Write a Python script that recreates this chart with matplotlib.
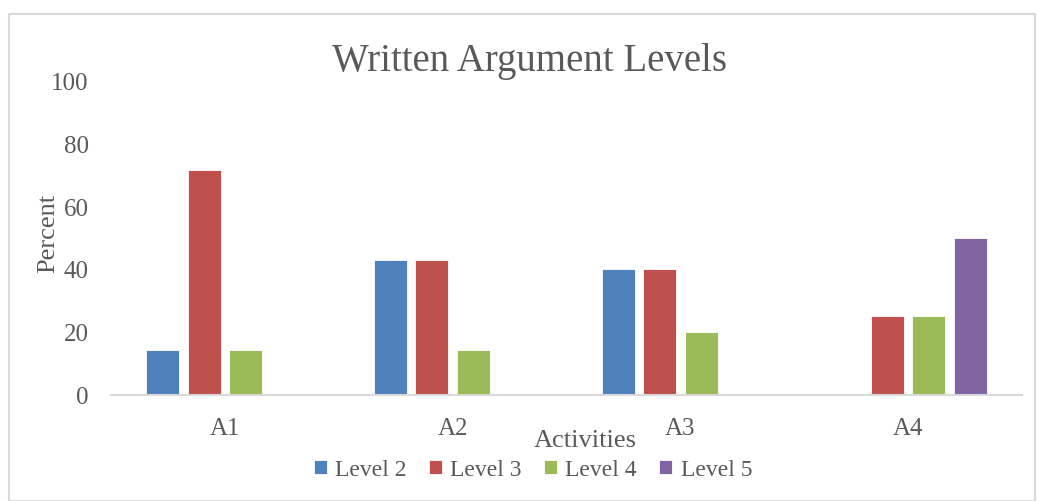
import matplotlib
matplotlib.use("Agg")
import matplotlib.pyplot as plt
from matplotlib.patches import Rectangle
import numpy as np

categories = ["A1", "A2", "A3", "A4"]
series_names = ["Level 2", "Level 3", "Level 4", "Level 5"]
level2 = [14.3, 42.9, 40.0, 0.0]
level3 = [71.4, 42.9, 40.0, 25.0]
level4 = [14.3, 14.3, 20.0, 25.0]
level5 = [0.0, 0.0, 0.0, 50.0]
colors = ["#4F81BD", "#C0504D", "#9BBB59", "#8064A2"]
yticks = [0, 20, 40, 60, 80, 100]

plt.rcParams['font.family'] = ['Liberation Serif', 'DejaVu Serif']
W, H = 1039, 502
fig = plt.figure(figsize=(W/100, H/100), dpi=100)
fig.patches.append(Rectangle((9/W, 0), (1035-9)/W, (H-15)/H, transform=fig.transFigure,
                             fill=False, edgecolor="#D9D9D9", linewidth=1.5))

ax = fig.add_axes([111/W, (H-395.5)/H, 911/W, (395.5-81.5)/H])
x = np.arange(len(categories))
slot = 0.182
bw = 0.145
data = [level2, level3, level4, level5]
for i, (name, vals, c) in enumerate(zip(series_names, data, colors)):
    ax.bar(x + (i-1.5)*slot, vals, bw, color=c, label=name, edgecolor="white", linewidth=0.6)

ax.set_xlim(-0.5, len(categories)-0.5)
ax.set_ylim(0, 100)
ax.set_yticks(yticks)
ax.set_xticks(x)
ax.set_xticklabels(categories)
for s in ["top", "right", "left"]:
    ax.spines[s].set_visible(False)
ax.spines["bottom"].set_color("#D9D9D9")
ax.spines["bottom"].set_linewidth(1.5)
ax.tick_params(axis="both", length=0, colors="#595959", labelsize=18)
ax.tick_params(axis="x", pad=16)
ax.tick_params(axis="y", pad=16)

fig.text(529/W, 1-62/H, "Written Argument Levels", ha="center", va="center", fontsize=28, color="#595959")
fig.text(585/W, 1-441/H, "Activities", ha="center", va="center", fontsize=19, color="#595959")
fig.text(48/W, 1-233/H, "Percent", ha="center", va="center", rotation=90, fontsize=19, color="#595959")

handles, labels = ax.get_legend_handles_labels()
leg = fig.legend(handles, labels, loc="center", bbox_to_anchor=(533/W, 1-471/H), ncol=4, frameon=False,
                 fontsize=17, handlelength=0.55, handleheight=0.55, handletextpad=0.35, columnspacing=0.95,
                 labelcolor="#595959")

fig.savefig("out.png", dpi=100)
